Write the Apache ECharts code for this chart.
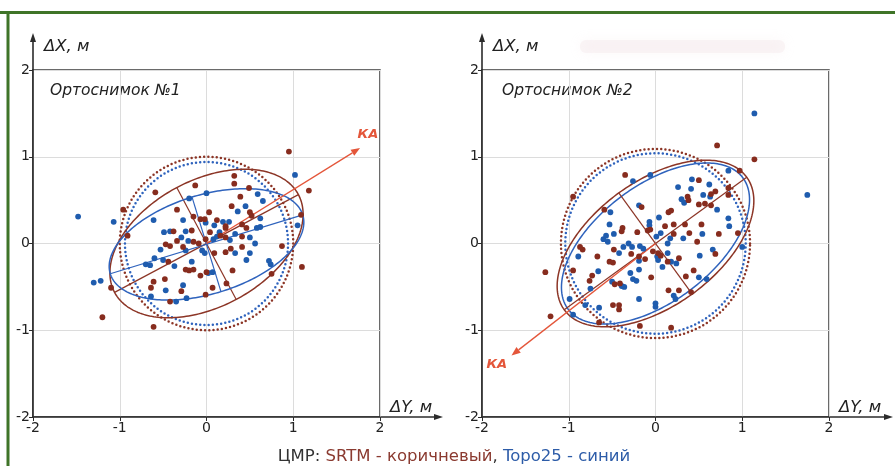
<!DOCTYPE html>
<html><head><meta charset="utf-8">
<script src="https://cdn.jsdelivr.net/npm/echarts@6/dist/echarts.min.js"></script>
<style>html,body{margin:0;padding:0;background:#fff}#c{width:895px;height:466px}</style>
</head><body><div id="c"></div><script>
// ---------- DATA ----------
const tickValues = [-2, -1, 0, 1, 2];
const panelTitles = ['Ортоснимок №1', 'Ортоснимок №2'];
const axisNameX = 'ΔY, м';
const axisNameY = 'ΔX, м';
const captionParts = ['ЦМР: ', 'SRTM - коричневый', ', ', 'Topo25 - синий'];
const kaText = 'КА';

const leftSRTM = [[0.95,1.06],[1.18,0.61],[-0.96,0.39],[-0.59,0.59],[-0.13,0.67],[0.32,0.78],[0.32,0.69],[0.49,0.64],[0.39,0.54],[-0.34,0.39],[-0.15,0.31],[-0.07,0.28],[-0.02,0.28],[0.03,0.36],[0.12,0.27],[0.29,0.43],[0.5,0.36],[0.52,0.32],[0.41,0.22],[0.46,0.18],[1.09,0.33],[-0.38,0.14],[-0.17,0.15],[0.04,0.13],[0.22,0.18],[-0.91,0.09],[-0.47,-0.01],[-0.42,-0.03],[-0.34,0.03],[-0.15,0.02],[-0.09,0],[-0.01,0.05],[0.16,0.09],[0.22,0.07],[0.41,0.08],[-0.27,-0.04],[0.09,-0.11],[0.22,-0.1],[0.28,-0.06],[0.41,-0.04],[0.87,-0.03],[-0.44,-0.21],[-0.24,-0.3],[-0.2,-0.31],[-0.15,-0.3],[-0.07,-0.37],[0,-0.33],[0.3,-0.31],[0.75,-0.35],[1.1,-0.27],[-1.1,-0.51],[-0.61,-0.44],[-0.64,-0.51],[-0.29,-0.55],[-0.48,-0.41],[0.07,-0.51],[0.23,-0.46],[-0.42,-0.67],[-0.01,-0.59],[-1.2,-0.85],[-0.61,-0.96],[0.22,0.2]];
const leftTopo = [[1.02,0.79],[-1.48,0.31],[-1.07,0.25],[-0.2,0.52],[0,0.58],[0.59,0.57],[0.65,0.49],[-0.61,0.27],[-0.27,0.27],[-0.01,0.24],[0.09,0.21],[0.19,0.25],[0.26,0.25],[0.36,0.37],[0.45,0.43],[0.62,0.29],[0.58,0.18],[0.62,0.19],[1.05,0.21],[-0.49,0.13],[-0.42,0.14],[-0.24,0.14],[0.15,0.13],[-0.29,0.07],[-0.21,0.03],[0.08,0.05],[0.12,0.08],[0.27,0.04],[0.5,0.07],[0.56,0],[-0.24,-0.08],[-0.05,-0.08],[-0.02,-0.11],[0.33,-0.11],[-0.53,-0.07],[-0.6,-0.17],[-0.5,-0.19],[-0.7,-0.24],[-0.65,-0.25],[-0.37,-0.26],[-0.17,-0.21],[0.02,-0.34],[0.07,-0.33],[0.46,-0.19],[0.5,-0.11],[0.72,-0.2],[0.74,-0.24],[-1.3,-0.45],[-1.22,-0.43],[-0.47,-0.54],[-0.27,-0.48],[-0.64,-0.61],[-0.35,-0.67],[-0.23,-0.63],[0.33,0.11]];
const rightSRTM = [[0.71,1.13],[1.14,0.97],[-0.35,0.79],[-0.95,0.54],[0.97,0.84],[0.5,0.73],[0.69,0.6],[0.64,0.57],[0.84,0.64],[0.84,0.56],[0.37,0.54],[0.38,0.5],[0.5,0.45],[0.57,0.46],[0.64,0.44],[-0.16,0.42],[0.15,0.36],[0.18,0.38],[-0.59,0.39],[0.73,0.11],[0.95,0.12],[-0.38,0.18],[-0.39,0.14],[-0.21,0.13],[-0.09,0.15],[-0.06,0.16],[0.11,0.2],[0.21,0.22],[0.34,0.22],[0.53,0.22],[0.39,0.12],[0.21,0.11],[0.48,0.02],[0.69,-0.12],[-0.48,-0.07],[-0.28,-0.12],[-0.19,-0.15],[-0.12,-0.18],[-0.03,-0.09],[0.03,-0.11],[0.06,-0.14],[0.14,-0.21],[0.27,-0.17],[-0.84,-0.07],[-0.87,-0.04],[-0.67,-0.15],[-0.53,-0.21],[-0.49,-0.22],[0.44,-0.31],[-0.73,-0.37],[-0.76,-0.43],[-0.95,-0.31],[-1.27,-0.33],[-0.47,-0.47],[-0.41,-0.46],[-0.05,-0.39],[0.35,-0.38],[0.15,-0.54],[0.27,-0.54],[0.41,-0.56],[-0.49,-0.71],[-0.42,-0.71],[-0.42,-0.76],[-1.21,-0.84],[-0.65,-0.91],[-0.18,-0.95],[0.18,-0.97]];
const rightTopo = [[1.14,1.5],[1.75,0.56],[-0.26,0.72],[-0.06,0.79],[0.84,0.84],[0.42,0.74],[0.62,0.68],[0.26,0.65],[0.41,0.63],[0.55,0.56],[0.63,0.54],[0.3,0.51],[0.33,0.47],[0.71,0.39],[-0.19,0.44],[-0.52,0.36],[0.84,0.29],[0.85,0.2],[1.0,-0.04],[-0.53,0.22],[-0.48,0.11],[-0.6,0.05],[-0.55,0.02],[-0.57,0.09],[-0.07,0.25],[-0.07,0.21],[0.04,0.3],[0.54,0.11],[0.01,0.08],[0.06,0.12],[0.17,0.06],[0.14,0],[0.32,0.06],[0.66,-0.07],[0.51,-0.14],[-0.31,0],[-0.27,-0.04],[-0.37,-0.04],[-0.42,-0.11],[-0.18,-0.03],[-0.14,-0.06],[0.02,-0.15],[0.03,-0.19],[0.14,-0.11],[0.18,-0.21],[0.24,-0.23],[-0.89,-0.15],[-0.19,-0.2],[0.08,-0.27],[-0.29,-0.34],[-0.26,-0.41],[-0.22,-0.43],[-0.19,-0.3],[-0.66,-0.32],[-0.5,-0.44],[-0.39,-0.49],[-0.36,-0.5],[-0.75,-0.52],[0.5,-0.39],[0.59,-0.41],[0.21,-0.6],[0.23,-0.64],[-0.19,-0.64],[0,-0.69],[0,-0.73],[-0.99,-0.64],[-0.81,-0.71],[-0.65,-0.74],[-0.95,-0.82]];

// ellipse parameters: [centerX, centerY, semiMajor, semiMinor, angleDeg]
const leftEllSRTM  = [0, 0, 1.2, 0.73, 28];
const leftEllTopo  = [0, -0.01, 1.16, 0.57, 17];
const leftCircSRTM = [0, 0, 1.0, 1.0, 0];
const leftCircTopo = [0, 0, 0.94, 0.94, 0];
const rightEllSRTM  = [0, 0, 1.3, 0.72, 36];
const rightEllTopo  = [0, 0, 1.26, 0.67, 37];
const rightCircSRTM = [0, 0, 1.09, 1.09, 0];
const rightCircTopo = [0, 0, 1.04, 1.04, 0];
// KA direction arrows: [start, end], label position
const leftKA = [[0, 0], [1.77, 1.1]];
const rightKA = [[0, 0], [-1.66, -1.29]];
const leftKALabel = [1.86, 1.25];
const rightKALabel = [-1.83, -1.40];

// ---------- STYLE ----------
const BROWN = '#872c1e', BLUE = '#1f5cae', BROWN_L = '#8c3526', BLUE_L = '#2f63bd', RED = '#e4563a';
const FONT = 'DejaVu Sans';
const G = [{left: 33, top: 70, width: 347, height: 347}, {left: 482, top: 70, width: 347, height: 347}];

const chart = echarts.init(document.getElementById('c'), null, {renderer: 'canvas'});

function axisX(i){return {gridIndex:i, type:'value', min:-2, max:2, interval:1,
  axisLine:{show:true, onZero:false, lineStyle:{color:'#2b2b2b', width:1.6}},
  axisTick:{show:true, length:4, lineStyle:{color:'#2b2b2b'}},
  splitLine:{show:true, lineStyle:{color:'#dcdcdc', width:1}},
  axisLabel:{color:'#222', fontSize:14, fontFamily:FONT, margin:4, formatter:v=>String(v)}};}
function axisY(i){return {gridIndex:i, type:'value', min:-2, max:2, interval:1,
  axisLine:{show:true, onZero:false, lineStyle:{color:'#2b2b2b', width:1.6}},
  axisTick:{show:true, length:4, lineStyle:{color:'#2b2b2b'}},
  splitLine:{show:true, lineStyle:{color:'#dcdcdc', width:1}},
  axisLabel:{color:'#222', fontSize:14, fontFamily:FONT, margin:3, formatter:v=>String(v)}};}

function ellipse(idx, p, color, dotted, withAxes){
  return {type:'custom', xAxisIndex:idx, yAxisIndex:idx, silent:true, z: dotted?2:3, clip:false,
    data:[[p[0], p[1]]],
    renderItem(params, api){
      const [cx, cy, a, b, deg] = p; const t = deg*Math.PI/180;
      const pt = (ex, ey) => api.coord([cx + ex*Math.cos(t) - ey*Math.sin(t), cy + ex*Math.sin(t) + ey*Math.cos(t)]);
      const pts = [];
      for (let i = 0; i <= 240; i++){const u = i/240*2*Math.PI; pts.push(pt(a*Math.cos(u), b*Math.sin(u)));}
      const ch = [{type:'polyline', shape:{points:pts}, style: dotted ?
        {stroke:color, lineWidth:2.5, fill:null, lineDash:[0, 4.2], lineCap:'round'} :
        {stroke:color, lineWidth:1.5, fill:null}}];
      if (withAxes){
        const s = {stroke:color, lineWidth:1.2, fill:null};
        const p1 = pt(-a,0), p2 = pt(a,0), q1 = pt(0,-b), q2 = pt(0,b);
        ch.push({type:'line', shape:{x1:p1[0],y1:p1[1],x2:p2[0],y2:p2[1]}, style:s});
        ch.push({type:'line', shape:{x1:q1[0],y1:q1[1],x2:q2[0],y2:q2[1]}, style:s});
      }
      return {type:'group', children:ch};
    }};
}
function kaArrow(idx, seg, lab){
  return {type:'custom', xAxisIndex:idx, yAxisIndex:idx, silent:true, z:4, clip:false,
    data:[seg[0]],
    renderItem(params, api){
      const s = api.coord(seg[0]), e = api.coord(seg[1]), l = api.coord(lab);
      const ang = Math.atan2(e[1]-s[1], e[0]-s[0]); const L = 9, W = 3.5;
      const bx = e[0] - L*Math.cos(ang), by = e[1] - L*Math.sin(ang);
      const px = -Math.sin(ang), py = Math.cos(ang);
      return {type:'group', children:[
        {type:'line', shape:{x1:s[0],y1:s[1],x2:bx,y2:by}, style:{stroke:RED, lineWidth:1.3}},
        {type:'polygon', shape:{points:[[e[0],e[1]],[bx+px*W,by+py*W],[bx-px*W,by-py*W]]}, style:{fill:RED}},
        {type:'text', x:l[0], y:l[1], style:{text:kaText, fill:RED, font:'italic bold 13px '+FONT, align:'center', verticalAlign:'middle'}}
      ]};
    }};
}
function pts(idx, data, color){
  return {type:'scatter', xAxisIndex:idx, yAxisIndex:idx, data, symbolSize:5.8, z:5, silent:true,
    itemStyle:{color, opacity:1}};
}

const graphics = [
  {type:'line', shape:{x1:0, y1:12.5, x2:895, y2:12.5}, style:{stroke:'#3f7428', lineWidth:3}},
  {type:'line', shape:{x1:8, y1:11, x2:8, y2:466}, style:{stroke:'#3f7428', lineWidth:3}},
  {type:'rect', shape:{x:580, y:40, width:205, height:13, r:6}, style:{fill:'rgba(240,220,223,0.25)', shadowBlur:12, shadowColor:'rgba(238,210,214,0.6)'}},
  {type:'text', x:454, y:457, style:{rich:{a:{fill:'#333', font:'16.5px '+FONT}, b:{fill:'#8a3a30', font:'16.5px '+FONT}, c:{fill:'#2d5ca8', font:'16.5px '+FONT}},
    text:'{a|'+captionParts[0]+'}{b|'+captionParts[1]+'}{a|'+captionParts[2]+'}{c|'+captionParts[3]+'}', align:'center', verticalAlign:'middle'}}
];
const xArrowEnd = [443, 893];
G.forEach((g, i) => {
  const x0 = g.left, yb = g.top + g.height, xr = g.left + g.width;
  graphics.push({type:'line', shape:{x1:x0, y1:g.top, x2:x0, y2:37}, style:{stroke:'#2b2b2b', lineWidth:1.6}});
  graphics.push({type:'polygon', shape:{points:[[x0,33],[x0-3,42],[x0+3,42]]}, style:{fill:'#2b2b2b'}});
  graphics.push({type:'line', shape:{x1:xr, y1:yb, x2:xArrowEnd[i]-4, y2:yb}, style:{stroke:'#2b2b2b', lineWidth:1.6}});
  graphics.push({type:'polygon', shape:{points:[[xArrowEnd[i],yb],[xArrowEnd[i]-9,yb-3],[xArrowEnd[i]-9,yb+3]]}, style:{fill:'#2b2b2b'}});
  graphics.push({type:'text', x:x0+11, y:47, style:{text:axisNameY, fill:'#222', font:'italic 16.5px '+FONT, verticalAlign:'middle'}});
  graphics.push({type:'text', x:xr+10, y:408, style:{text:axisNameX, fill:'#222', font:'italic 16.5px '+FONT, verticalAlign:'middle'}});
  graphics.push({type:'text', x:x0+17+(i?3:0), y:91, style:{text:panelTitles[i], fill:'#222', font:'italic 15.5px '+FONT, verticalAlign:'middle'}});
});

chart.setOption({
  animation:false,
  backgroundColor:'#fff',
  grid: G.map(g => ({left:g.left, top:g.top, width:g.width, height:g.height, show:true, borderColor:'#3a3a3a', borderWidth:1.5, backgroundColor:'transparent'})),
  xAxis:[axisX(0), axisX(1)],
  yAxis:[axisY(0), axisY(1)],
  series:[
    ellipse(0, leftCircSRTM, BROWN_L, true, false),
    ellipse(0, leftCircTopo, BLUE_L, true, false),
    ellipse(0, leftEllSRTM, BROWN_L, false, true),
    ellipse(0, leftEllTopo, BLUE_L, false, true),
    kaArrow(0, leftKA, leftKALabel),
    pts(0, leftTopo, BLUE),
    pts(0, leftSRTM, BROWN),
    ellipse(1, rightCircSRTM, BROWN_L, true, false),
    ellipse(1, rightCircTopo, BLUE_L, true, false),
    ellipse(1, rightEllTopo, BLUE_L, false, false),
    ellipse(1, rightEllSRTM, BROWN_L, false, true),
    kaArrow(1, rightKA, rightKALabel),
    pts(1, rightTopo, BLUE),
    pts(1, rightSRTM, BROWN)
  ],
  graphic: graphics
});
</script></body></html>
